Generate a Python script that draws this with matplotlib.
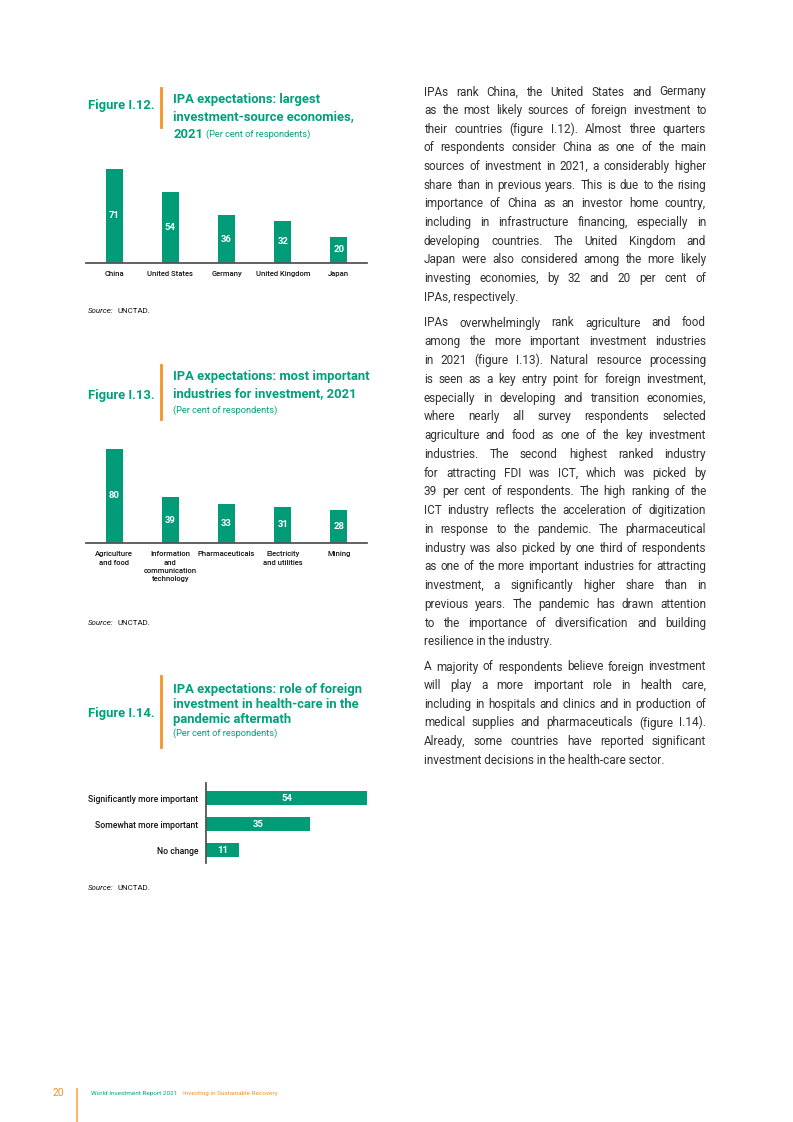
import matplotlib
matplotlib.use("Agg")
import matplotlib.pyplot as plt
from matplotlib.lines import Line2D

W, H = 793, 1122
GREEN = '#009b77'
TEAL = '#00a07c'
ORANGE = '#f39325'
INK = '#303030'
COND = ['Roboto', 'Liberation Sans', 'DejaVu Sans']
BODY = ['Roboto', 'Liberation Sans', 'DejaVu Sans']

# data
countries = ['China', 'United States', 'Germany', 'United Kingdom', 'Japan']
country_share = [71, 54, 36, 32, 20]

industries = ['Agriculture\nand food', 'Information\nand\ncommunication\ntechnology',
              'Pharmaceuticals', 'Electricity\nand utilities', 'Mining']
industry_share = [80, 39, 33, 31, 28]

roles = ['Significantly more important', 'Somewhat more important', 'No change']
role_share = [54, 35, 11]

para1 = [
    "IPAs rank China, the United States and Germany",
    "as the most likely sources of foreign investment to",
    "their countries (figure I.12). Almost three quarters",
    "of respondents consider China as one of the main",
    "sources of investment in 2021, a considerably higher",
    "share than in previous years. This is due to the rising",
    "importance of China as an investor home country,",
    "including in infrastructure financing, especially in",
    "developing countries. The United Kingdom and",
    "Japan were also considered among the more likely",
    "investing economies, by 32 and 20 per cent of",
    "IPAs, respectively.",
]
para2 = [
    "IPAs overwhelmingly rank agriculture and food",
    "among the more important investment industries",
    "in 2021 (figure I.13). Natural resource processing",
    "is seen as a key entry point for foreign investment,",
    "especially in developing and transition economies,",
    "where nearly all survey respondents selected",
    "agriculture and food as one of the key investment",
    "industries. The second highest ranked industry",
    "for attracting FDI was ICT, which was picked by",
    "39 per cent of respondents. The high ranking of the",
    "ICT industry reflects the acceleration of digitization",
    "in response to the pandemic. The pharmaceutical",
    "industry was also picked by one third of respondents",
    "as one of the more important industries for attracting",
    "investment, a significantly higher share than in",
    "previous years. The pandemic has drawn attention",
    "to the importance of diversification and building",
    "resilience in the industry.",
]
para3 = [
    "A majority of respondents believe foreign investment",
    "will play a more important role in health care,",
    "including in hospitals and clinics and in production of",
    "medical supplies and pharmaceuticals (figure I.14).",
    "Already, some countries have reported significant",
    "investment decisions in the health-care sector.",
]

fig = plt.figure(figsize=(W / 100, H / 100), dpi=100)
renderer = fig.canvas.get_renderer()


def fx(x):
    return x / W


def fy(y):
    return 1 - y / H


def rect(x0, y0, x1, y1):
    return [fx(x0), fy(y1), (x1 - x0) / W, (y1 - y0) / H]


def text_w(s, **kw):
    t = fig.text(0, 0, s, **kw)
    w = t.get_window_extent(renderer).width
    t.remove()
    return w


def vbars(top, base, scale, names, vals):
    ax = fig.add_axes(rect(86, top, 367, base))
    ax.patch.set_alpha(0)
    ax.bar(range(len(vals)), vals, width=0.3, color=GREEN)
    ax.set_xlim(-0.5, len(vals) - 0.5)
    ax.set_ylim(0, (base - top) / scale)
    for i, v in enumerate(vals):
        ax.text(i, v / 2, str(v), ha='center', va='center', color='white',
                fontsize=6.8, fontweight='bold', family=COND)
    ax.set_xticks(range(len(vals)))
    ax.set_xticklabels(names, fontsize=5.5, family=COND, fontweight='medium',
                       linespacing=1.45, color='#111111')
    ax.tick_params(axis='x', length=0, pad=6)
    ax.set_yticks([])
    for s in ['left', 'right', 'top']:
        ax.spines[s].set_visible(False)
    ax.spines['bottom'].set_color('#555555')
    ax.spines['bottom'].set_linewidth(1.3)
    return ax


HKW = dict(color=TEAL, fontsize=9.4, fontweight='bold', family=COND, va='center')


def header(num, y_num, ltop, lbot, lines, ys):
    fig.text(fx(88), fy(y_num), num, **HKW)
    fig.add_artist(Line2D([fx(161), fx(161)], [fy(ltop), fy(lbot)], color=ORANGE, lw=2))
    for ln, y in zip(lines, ys):
        fig.text(fx(173), fy(y), ln, **HKW)


def sub(x, y, s):
    fig.text(fx(x), fy(y), s, color=TEAL, fontsize=6.7, family=COND, va='center')


def source(y):
    kw = dict(fontsize=5.7, family=COND, color='#111111', va='center')
    fig.text(fx(88), fy(y), "Source:", style='italic', **kw)
    w = text_w("Source: ", style='italic', **kw)
    fig.text(fx(88 + w + 2), fy(y), "UNCTAD.", **kw)


# Figure I.12
header("Figure I.12.", 106, 88, 127,
       ["IPA expectations: largest", "investment-source economies,", "2021"], [99, 117, 134])
w2021 = text_w("2021 ", **{k: v for k, v in HKW.items() if k != 'va'})
sub(173 + w2021, 134.5, "(Per cent of respondents)")
vbars(160, 263, 1.324, countries, country_share)
source(311)

# Figure I.13
header("Figure I.13.", 395, 365, 419,
       ["IPA expectations: most important", "industries for investment, 2021"], [377, 393.5])
sub(173, 410, "(Per cent of respondents)")
vbars(440, 543, 1.175, industries, industry_share)
source(623)

# Figure I.14
header("Figure I.14.", 713, 676, 747,
       ["IPA expectations: role of foreign", "investment in health-care in the",
        "pandemic aftermath"], [689, 704, 719])
sub(173, 733, "(Per cent of respondents)")

ax = fig.add_axes(rect(206, 783, 370, 863))
ax.patch.set_alpha(0)
ax.barh(range(len(role_share)), role_share, height=0.54, color=GREEN)
ax.set_xlim(0, 55)
ax.set_ylim(2.5, -0.58)
for i, v in enumerate(role_share):
    ax.text(v / 2, i, str(v), ha='center', va='center', color='white',
            fontsize=6.8, fontweight='bold', family=COND)
ax.set_yticks(range(len(roles)))
ax.set_yticklabels(roles, fontsize=6.25, family=COND, fontweight='medium', color='#111111')
ax.tick_params(axis='y', length=0, pad=5.5)
ax.set_xticks([])
for s in ['bottom', 'right', 'top']:
    ax.spines[s].set_visible(False)
ax.spines['left'].set_color('#555555')
ax.spines['left'].set_linewidth(1.3)
source(888)

# body text, justified
X0, X1 = 424, 706
paras = [(para1, 92, 18.64), (para2, 323, 18.76), (para3, 667, 18.6)]
probe = 10
widest = max(text_w(l, fontsize=probe, family=BODY) for p, _, _ in paras for l in p[:-1])
bsize = probe * (X1 - X0) / widest * 0.99
bkw = dict(fontsize=bsize, family=BODY, color=INK, va='center')

for lines, y0, dy in paras:
    for i, line in enumerate(lines):
        y = y0 + i * dy
        if i == len(lines) - 1:
            fig.text(fx(X0), fy(y), line, **bkw)
            continue
        words = line.split()
        ws = [text_w(w, **bkw) for w in words]
        gap = (X1 - X0 - sum(ws)) / (len(words) - 1)
        x = X0
        for w, wd in zip(words, ws):
            fig.text(fx(x), fy(y), w, **bkw)
            x += wd + gap

# footer
fig.text(fx(53), fy(1093), "20", color=ORANGE, fontsize=7.5, family=COND, va='center')
fig.add_artist(Line2D([fx(77), fx(77)], [fy(1089), fy(1122)], color='#f7b96a', lw=1.5))
fkw = dict(fontsize=4.6, family=COND, va='center')
fig.text(fx(91), fy(1093), "World Investment Report 2021", color=TEAL, **fkw)
wf = text_w("World Investment Report 2021", fontsize=4.6, family=COND)
fig.text(fx(91 + wf + 6), fy(1093), "Investing in Sustainable Recovery", color=ORANGE, **fkw)

fig.savefig("out.png", dpi=100)
